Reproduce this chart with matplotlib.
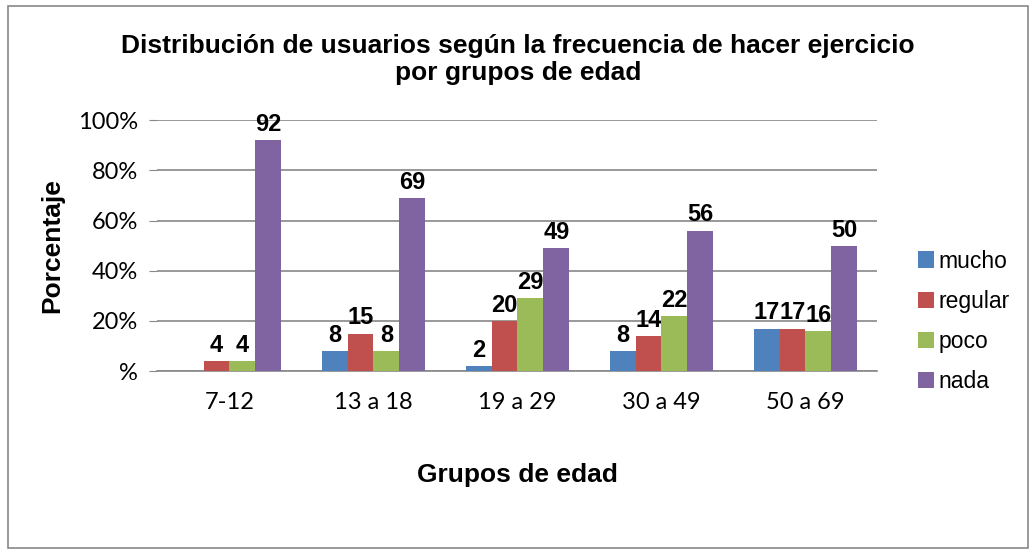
import numpy as np
import matplotlib.pyplot as plt
from matplotlib.patches import Rectangle

plt.rcParams['font.family'] = ['Liberation Sans', 'DejaVu Sans']

# data
grupos = ['7-12', '13 a 18', '19 a 29', '30 a 49', '50 a 69']
mucho = [0, 8, 2, 8, 17]
regular = [4, 15, 20, 14, 17]
poco = [4, 8, 29, 22, 16]
nada = [92, 69, 49, 56, 50]

series = [('mucho', mucho, '#4f81bd'),
          ('regular', regular, '#c0504d'),
          ('poco', poco, '#9bbb59'),
          ('nada', nada, '#8064a2')]

fig = plt.figure(figsize=(10.36, 5.54), dpi=100)
ax = fig.add_axes([0.152, 0.330, 0.695, 0.453])

# chart border
fig.patches.append(Rectangle((0.008, 0.01), 0.984, 0.98, transform=fig.transFigure,
                             fill=False, edgecolor='#888888', linewidth=1.2))

x = np.arange(len(grupos))
w = 0.18
for i, (name, vals, color) in enumerate(series):
    pos = x + (i - 1.5) * w
    bars = ax.bar(pos, vals, width=w, color=color, label=name, zorder=3)
    for b, v in zip(bars, vals):
        if v == 0:
            continue
        ax.annotate(str(v), (b.get_x() + b.get_width() / 2, v),
                    xytext=(0, 3), textcoords='offset points',
                    ha='center', va='bottom', fontsize=17, fontweight='bold')

tick_font = ['Lato', 'DejaVu Sans']
ax.set_xlim(-0.5, len(grupos) - 0.5)
ax.set_ylim(0, 100)
ax.set_yticks([0, 20, 40, 60, 80, 100])
ax.set_yticklabels(['%', '20%', '40%', '60%', '80%', '100%'], fontsize=17, family=tick_font)
ax.set_xticks(x)
ax.set_xticklabels(grupos, fontsize=17, family=tick_font)
ax.tick_params(axis='x', length=0, pad=15)
ax.tick_params(axis='y', length=6, color='#888888', direction='out', pad=8)
ax.grid(axis='y', color='#888888', linewidth=1.2, zorder=0)

for s in ['top', 'right', 'left']:
    ax.spines[s].set_visible(False)
ax.spines['bottom'].set_color('#888888')
ax.spines['bottom'].set_linewidth(1.2)

ax.set_xlabel('Grupos de edad', fontsize=19, fontweight='bold', labelpad=36)
ax.set_ylabel('Porcentaje', fontsize=19, fontweight='bold', labelpad=10)

fig.text(0.5, 0.893, 'Distribución de usuarios según la frecuencia de hacer ejercicio\npor grupos de edad',
         ha='center', va='center', fontsize=19, fontweight='bold', linespacing=1.15)

fig.legend(*ax.get_legend_handles_labels(), loc='center left', bbox_to_anchor=(0.866, 0.42),
           frameon=False, fontsize=16.5, handlelength=0.7, handleheight=0.7,
           handletextpad=0.2, labelspacing=0.75)

fig.savefig('out.png', dpi=100)
